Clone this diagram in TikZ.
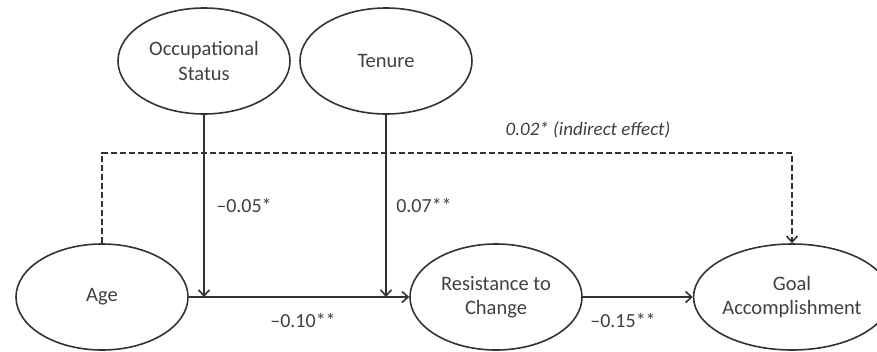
\documentclass[tikz,border=0pt]{standalone}
\usepackage{fontspec}
\setmainfont{Carlito}
\usetikzlibrary{shapes.geometric,arrows.meta}
\definecolor{linegray}{HTML}{333333}
\definecolor{textgray}{HTML}{404040}
\begin{document}
\begin{tikzpicture}[x=1pt,y=-1pt,font=\fontsize{20.5}{24.5}\selectfont,
  construct/.style={ellipse,draw=linegray,line width=1.6pt,inner sep=0pt,
    text=textgray,align=center,minimum width=172pt,minimum height=106pt},
  path/.style={draw=linegray,line width=1.6pt,-{Straight Barb[length=6pt,width=11pt,line width=1.6pt]}},
  coef/.style={text=textgray,font=\fontsize{20}{22}\selectfont}]
\useasboundingbox (0,0) rectangle (877,351);
\node[construct] (occ) at (204,61) {Occupational\\Status};
\node[construct] (ten) at (386,61) {Tenure};
\node[construct] (age) at (102,297) {Age};
\node[construct] (res) at (496,297) {Resistance to\\Change};
\node[construct,minimum width=169pt] (goal) at (792,297) {Goal\\Accomplishment};
\coordinate (top) at (0,153);
% direct paths
\draw[path] (age) -- (res);
\draw[path] (res) -- (goal);
% moderators
\draw[path] (occ.south) -- (occ.south |- age.east);
\draw[path] (ten.south) -- (ten.south |- age.east);
% indirect effect
\draw[path,dashed,dash pattern=on 6pt off 3pt] (age.north) -- (age.north |- top) -| (goal.north);
\node[coef,font=\fontsize{19}{21}\selectfont\itshape] (ind) at (588,130) {0.02* (indirect effect)};
\node[coef] (c1) at (244,205) {–0.05*};
\node[coef] (c2) at (424,205) {0.07**};
\node[coef] (c3) at (303,320) {–0.10**};
\node[coef] (c4) at (623,320) {–0.15**};
\end{tikzpicture}
\end{document}
